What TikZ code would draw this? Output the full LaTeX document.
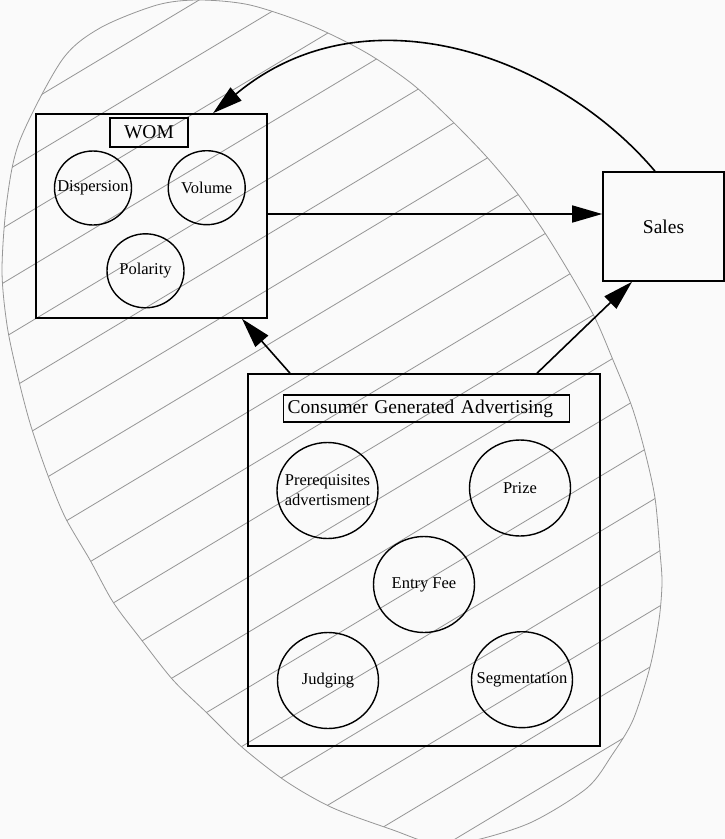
\documentclass[tikz,border=0pt]{standalone}
\usepackage{fontspec}
\setmainfont{Liberation Serif}
\usetikzlibrary{arrows.meta,shapes.geometric,calc}
\definecolor{bg}{RGB}{250,250,250}
\definecolor{hatchgray}{RGB}{150,150,150}
\begin{document}
\begin{tikzpicture}[x=1pt,y=-1pt,
  outerbox/.style={draw, line width=1.6pt, rectangle, inner sep=0pt},
  labelbox/.style={draw, line width=1.4pt, rectangle, inner sep=0pt, font=\fontsize{19.5}{22}\selectfont},
  circtext/.style={font=\fontsize{16.5}{20}\selectfont, align=center, inner sep=0pt},
  smallcirc/.style={draw, ellipse, line width=1.4pt, minimum width=77pt, minimum height=74pt, inner sep=0pt},
  bigcirc/.style={draw, ellipse, line width=1.4pt, minimum width=101pt, minimum height=96pt, inner sep=0pt},
  arr/.style={line width=1.6pt, -{Triangle[length=30pt,width=17pt]}},
  hatchline/.style={draw=hatchgray, line width=0.8pt},
]
\useasboundingbox (0,0) rectangle (725,839);
\fill[bg] (0,0) rectangle (725,839);
\begin{scope}
  \clip (0,0) rectangle (725,839);
  \begin{scope}
    \clip plot[smooth cycle] coordinates {(2,270) (7,200) (20,140) (62,60) (100,28) (157,5) (199,0) (250,5) (310,25) (365,52) (411,83) (448,117) (485,155) (517,193) (545,233) (572,277) (595,318) (613,360) (632,407) (645,452) (655,498) (660,552) (662,583) (659,620) (650,667) (633,720) (612,755) (587,788) (532,822) (476,840) (435,844) (393,830) (333,808) (287,782) (243,748) (207,713) (173,680) (140,638) (113,602) (90,560) (65,517) (47,473) (30,423) (17,373) (7,325)};
    \foreach \k in {-9,...,12}{
      \pgfmathsetmacro{\c}{505.5+55.15*\k}
      \draw[hatchline] (-20,\c+12) -- (745,\c-447);
    }
  \end{scope}
  \draw[hatchline] plot[smooth cycle] coordinates {(2,270) (7,200) (20,140) (62,60) (100,28) (157,5) (199,0) (250,5) (310,25) (365,52) (411,83) (448,117) (485,155) (517,193) (545,233) (572,277) (595,318) (613,360) (632,407) (645,452) (655,498) (660,552) (662,583) (659,620) (650,667) (633,720) (612,755) (587,788) (532,822) (476,840) (435,844) (393,830) (333,808) (287,782) (243,748) (207,713) (173,680) (140,638) (113,602) (90,560) (65,517) (47,473) (30,423) (17,373) (7,325)};
\end{scope}

% WOM group
\node[outerbox, minimum width=231pt, minimum height=204pt] (wom) at (151.5,216) {};
\node[labelbox, minimum width=78pt, minimum height=29pt] (womlabel) at (149,132.5) {WOM};
\node[smallcirc, label={[circtext]center:Dispersion}] (disp) at (93,188) {};
\node[smallcirc, label={[circtext]center:Volume}] (vol) at (206.7,187.7) {};
\node[smallcirc, label={[circtext]center:Polarity}] (pol) at (145.5,270.8) {};

% Sales
\node[outerbox, minimum width=121pt, minimum height=109pt, font=\fontsize{19.5}{22}\selectfont] (sales) at (663.5,226.5) {Sales};

% CGA group
\node[outerbox, minimum width=352pt, minimum height=372pt] (cga) at (424,560) {};
\node[labelbox, minimum height=27pt, text width=278pt, align=left, inner xsep=4pt, anchor=west] (cgalabel) at (283,408.5) {Consumer Generated Advertising};
\node[bigcirc, label={[circtext]center:{Prerequisites\\advertisment}}] (prereq) at (327.5,490.5) {};
\node[bigcirc, label={[circtext]center:Prize}] (prize) at (520,488) {};
\node[bigcirc, label={[circtext]center:Entry Fee}] (fee) at (424,584.5) {};
\node[bigcirc, label={[circtext]center:Judging}] (judg) at (328,680.5) {};
\node[bigcirc, label={[circtext]center:Segmentation}] (seg) at (522,679.7) {};

% connectors
\coordinate (w1) at ([yshift=2pt]wom.east);
\draw[arr] (w1) -- (w1 -| sales.west);
\draw[arr] ([xshift=113pt]cga.north) -- ([xshift=-31.5pt]sales.south);
\draw[arr] ([xshift=-134pt]cga.north) -- ([xshift=90.5pt]wom.south);
\draw[arr] ([xshift=-8.5pt]sales.north) .. controls (558.5,57.1) and (366.2,-14.6) .. ([xshift=61.5pt]wom.north);
\end{tikzpicture}
\end{document}
